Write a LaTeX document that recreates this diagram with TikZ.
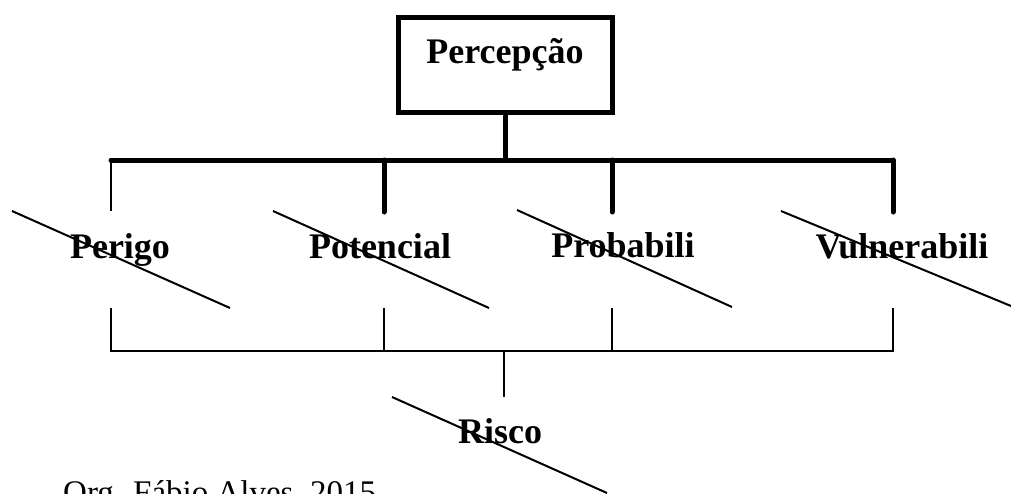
\documentclass[tikz,border=0pt]{standalone}
\usepackage{fontspec}
\setmainfont{Liberation Serif}
\begin{document}
\begin{tikzpicture}[x=1pt,y=-1pt,
  thickln/.style={line width=5pt, line cap=round},
  thinln/.style={line width=2pt},
  slashln/.style={line width=2pt},
  lbl/.style={font=\fontsize{36}{40}\selectfont\bfseries, inner sep=0pt, anchor=base},
  topbox/.style={draw, line width=5pt, minimum width=214pt, inner sep=0pt,
    text height=45.5pt, text depth=49.5pt, font=\fontsize{36}{40}\selectfont\bfseries}]
\useasboundingbox (0,0) rectangle (1011,493);
\clip (0,0) rectangle (1011,493);

% top box
\node[topbox] (perc) at (505,65) {Percepção};

% top bar coordinates
\coordinate (bar) at (505,160);
\coordinate (t1) at (111,160);
\coordinate (t2) at (384,160);
\coordinate (t3) at (612,160);
\coordinate (t4) at (893,160);
\coordinate (e1) at (111,211);
\coordinate (e2) at (384,212);
\coordinate (e3) at (612,212);
\coordinate (e4) at (893,212);

\draw[thickln] (perc.south) -- (bar);
\draw[thickln] (t1) -- (t4);
\draw[line width=2.5pt] (t1) -- (e1);
\draw[thickln] (t2) -- (e2);
\draw[thickln] (t3) -- (e3);
\draw[thickln] (t4) -- (e4);

% labels
\node[lbl] (perigo) at (120,258) {Perigo};
\node[lbl] (potencial) at (380,258) {Potencial};
\node[lbl] (probab) at (623,257) {Probabili};
\node[lbl] (vulner) at (902,258) {Vulnerabili};
\node[lbl] (risco) at (500,443) {Risco};

% slashes
\draw[slashln] (12,211) -- (230,308);
\draw[slashln] (273,211) -- (489,308);
\draw[slashln] (517,210) -- (732,307);
\draw[slashln] (781,211) -- (1011,306);
\draw[slashln] (392,397) -- (607,493);

% bottom connectors
\coordinate (u1) at (111,308);
\coordinate (u2) at (384,308);
\coordinate (u3) at (612,308);
\coordinate (u4) at (893,308);
\coordinate (b1) at (111,351);
\coordinate (b2) at (384,351);
\coordinate (b3) at (612,351);
\coordinate (b4) at (893,351);
\coordinate (bm) at (504,351);
\coordinate (rtop) at (504,397);

\draw[thinln] (u1) -- (b1) -- (b4) -- (u4);
\draw[thinln] (u2) -- (b2);
\draw[thinln] (u3) -- (b3);
\draw[thinln] (bm) -- (rtop);

% source note
\node[font=\fontsize{33}{38}\selectfont, inner sep=0pt, anchor=base west] (src) at (63,503) {Org. Fábio Alves, 2015.};
\end{tikzpicture}
\end{document}
